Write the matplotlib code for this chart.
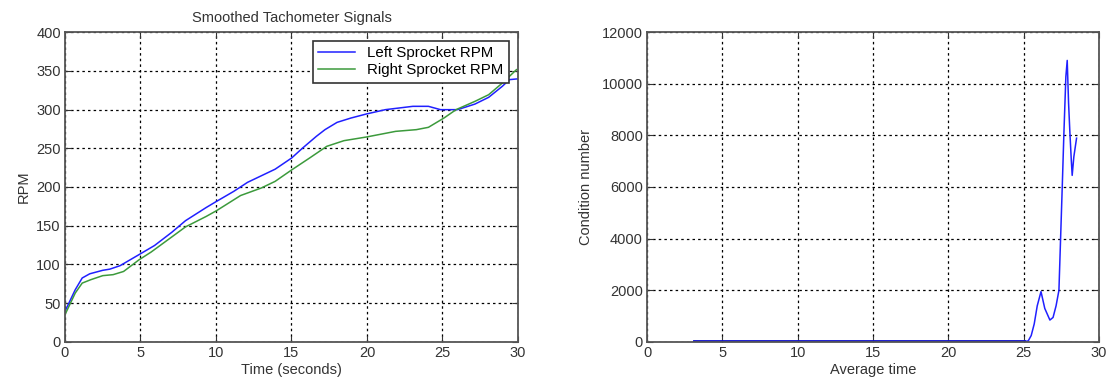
import matplotlib
matplotlib.use("Agg")
import matplotlib.pyplot as plt

plt.rcParams["font.family"] = ["Liberation Sans", "DejaVu Sans"]

# smoothed tachometer signals
t_left = [0, 0.68, 1.14, 1.64, 2.5, 2.97, 3.65, 4.9, 5.93, 7.07, 7.98, 9.35,
          10.04, 11.18, 12.09, 13.92, 15.01, 15.74, 16.65, 17.22, 18.02, 18.94,
          19.96, 21.22, 23.04, 24.07, 24.87, 26.0, 27.15, 28.06, 28.97, 29.43, 29.9, 30]
rpm_left = [39.6, 67.5, 82.6, 88, 92.5, 94, 98.5, 112.7, 124.5, 141.5, 156.5, 173.5,
            181.5, 194.4, 206.0, 223.0, 237.4, 250.3, 265.4, 274, 283.4, 289,
            294.2, 299.8, 304.1, 304.1, 299.8, 299.8, 307, 315.7, 330, 338.5, 339.4, 339.4]

t_right = [0, 0.68, 1.14, 1.71, 2.5, 3.19, 3.88, 4.9, 5.7, 7.07, 7.98, 9.35, 10.04,
           11.63, 13.0, 13.92, 15.01, 16.2, 17.34, 18.48, 19.96, 21.9, 23.27, 24.07,
           25.1, 25.9, 27.15, 28.06, 28.97, 29.9]
rpm_right = [35.3, 63.2, 76, 80.4, 85.6, 86.9, 91, 106.0, 116.0, 135.5, 148.5, 162, 169.5,
             189.0, 198.7, 207.3, 222.0, 237.4, 252.5, 259.8, 264.5, 271.8, 274, 277,
             289, 299.8, 310.5, 319.1, 334.2, 351.4]

# condition number vs average time
t_avg = [3.1, 10, 20, 25.0, 25.3, 25.5, 25.7, 25.9, 26.15, 26.4, 26.74, 26.95,
         27.15, 27.34, 27.45, 27.56, 27.67, 27.8, 27.89, 27.98, 28.07, 28.16,
         28.22, 28.33, 28.51]
cond = [20, 20, 20, 20, 40, 250, 700, 1400, 1950, 1300, 850, 950,
        1400, 2000, 4000, 6000, 8080, 10270, 10900, 9250, 8080, 7050,
        6450, 7170, 7890]

text_col = "#333333"
grid_kw = dict(color="black", linestyle=(0, (2, 2.5)), linewidth=0.9)

fig = plt.figure(figsize=(11.11, 3.87), dpi=100)
ax1 = fig.add_axes([0.0585, 0.1163, 0.4077, 0.801])
ax2 = fig.add_axes([0.5824, 0.1163, 0.4068, 0.801])

ax1.plot(t_left, rpm_left, color="#2020ff", lw=1.1, label="Left Sprocket RPM")
ax1.plot(t_right, rpm_right, color="#3c9a3c", lw=1.1, label="Right Sprocket RPM")
ax1.set_xlim(0, 30)
ax1.set_ylim(0, 400)
ax1.set_xticks(range(0, 31, 5))
ax1.set_yticks(range(0, 401, 50))
ax1.set_title("Smoothed Tachometer Signals", fontsize=10.5, color=text_col, pad=7)
ax1.set_xlabel("Time (seconds)", fontsize=10.5, color=text_col, labelpad=2)
ax1.set_ylabel("RPM", fontsize=10.5, color=text_col, labelpad=4)
leg = ax1.legend(loc="upper right", fontsize=10.8, fancybox=False, framealpha=1,
                 handlelength=2.5, borderpad=0.35, labelspacing=0.2,
                 borderaxespad=0.6)
leg.get_frame().set_edgecolor("#333333")
leg.get_frame().set_linewidth(1.2)

ax2.plot(t_avg, cond, color="#2020ff", lw=1.1)
ax2.plot(t_avg[:4], cond[:4], color="#1010cc", lw=2)
ax2.set_xlim(0, 30)
ax2.set_ylim(0, 12000)
ax2.set_xticks(range(0, 31, 5))
ax2.set_yticks(range(0, 12001, 2000))
ax2.set_xlabel("Average time", fontsize=10.5, color=text_col, labelpad=2)
ax2.set_ylabel("Condition number", fontsize=10.5, color=text_col, labelpad=6)

for ax in (ax1, ax2):
    ax.grid(True, **grid_kw)
    ax.tick_params(direction="in", length=4, labelsize=10.5, colors=text_col,
                   top=True, right=True, pad=3)
    for sp in ax.spines.values():
        sp.set_color("#555555")
        sp.set_linewidth(1.3)

fig.savefig("out.png", dpi=100, facecolor="white")
